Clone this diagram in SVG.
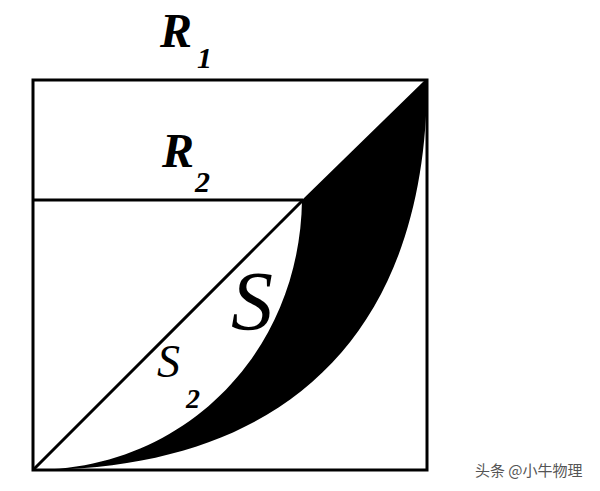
<svg xmlns="http://www.w3.org/2000/svg" width="600" height="491" viewBox="0 0 600 491">
<style>
.ln{fill:none;stroke:#000;stroke-width:3;stroke-linejoin:miter}
.lbl{font-family:"Liberation Serif","Times New Roman",serif;font-style:italic;fill:#000}
.b{font-weight:bold}
.wm{font-family:"Noto Sans CJK SC","Noto Sans",sans-serif;font-size:15px;fill:#555}
</style>
<rect width="600" height="491" fill="#fff"/>
<g id="shaded">
<path d="M302,200 L425,80 L427,80 C427,330 290,470 33,470 C185,470 300,352 302,200 Z" fill="#000"/>
</g>
<g id="lines">
<rect class="ln" x="33" y="80" width="394" height="390"/>
<line class="ln" x1="33" y1="200" x2="303" y2="200"/>
<line class="ln" x1="33" y1="470" x2="303" y2="200"/>
</g>
<g id="labels">
<text class="lbl b" x="160" y="47" font-size="48">R</text>
<text class="lbl b" x="197" y="68" font-size="30">1</text>
<text class="lbl b" x="162" y="167" font-size="48">R</text>
<text class="lbl b" x="195" y="192" font-size="30">2</text>
<text class="lbl" x="231" y="330" font-size="84">S</text>
<text class="lbl" x="157" y="377" font-size="46">S</text>
<text class="lbl b" x="186" y="408" font-size="28">2</text>
</g>
<text class="wm" x="475" y="476">头条 @小牛物理</text>
</svg>
